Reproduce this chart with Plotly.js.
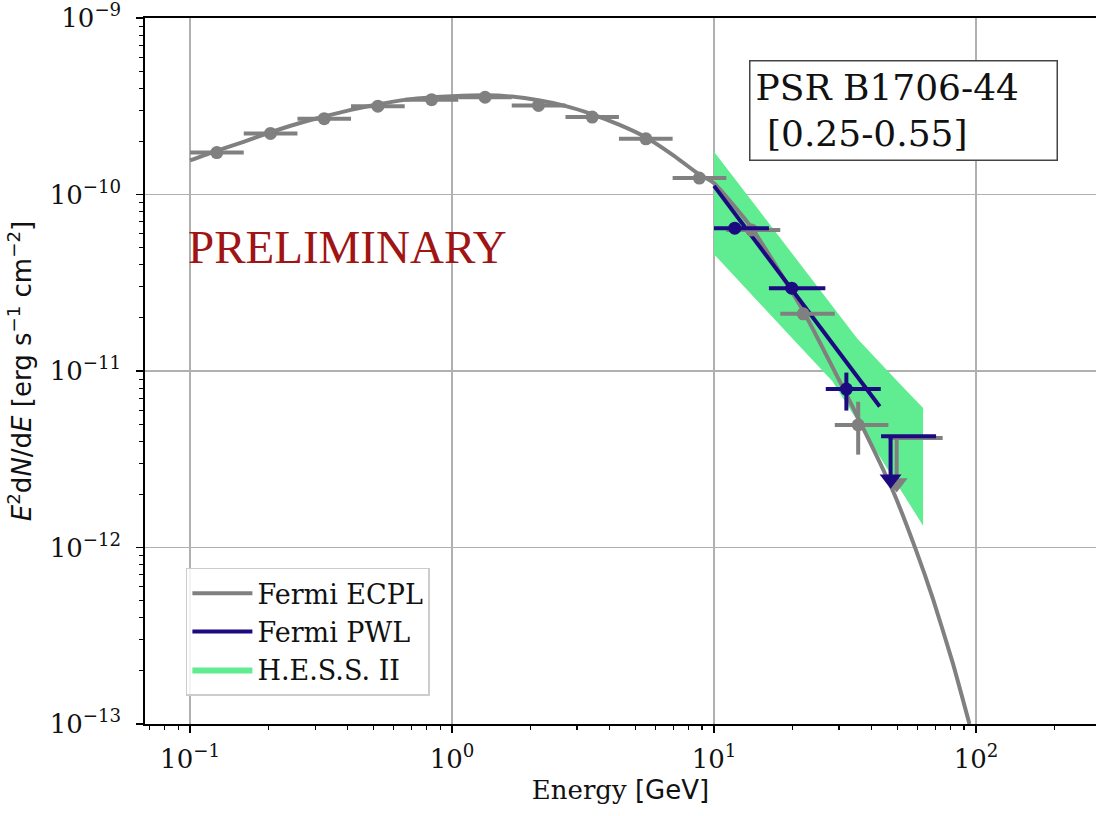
<!DOCTYPE html>
<html>
<head>
<meta charset="utf-8">
<script src="https://cdn.plot.ly/plotly-3.0.1.min.js"></script>
<style>html,body{margin:0;padding:0;background:#fff;overflow:hidden}#chart{width:1096px;height:816px}</style>
</head>
<body>
<div id="chart"></div>
<script>
// ---- Fermi ECPL model curve ----
const ecplE = [0.1, 0.126, 0.16, 0.204, 0.257, 0.325, 0.411, 0.524, 0.659, 0.839, 1.0, 1.34, 1.69, 2.14, 2.70, 3.43, 4.34, 5.46, 6.95, 8.65, 10, 13.9, 21.9, 35, 48.2, 59.1, 68.4, 81.5, 94.4];
const ecplF = [1.56e-10, 1.77e-10, 1.99e-10, 2.26e-10, 2.52e-10, 2.77e-10, 3.02e-10, 3.25e-10, 3.44e-10, 3.56e-10, 3.61e-10, 3.65e-10, 3.59e-10, 3.42e-10, 3.18e-10, 2.85e-10, 2.49e-10, 2.12e-10, 1.68e-10, 1.32e-10, 1.16e-10, 6.5e-11, 2.19e-11, 5.65e-12, 2.09e-12, 9.6e-13, 5.15e-13, 2.22e-13, 1.0e-13];

// ---- Fermi PWL line ----
const pwlE = [10, 42.9];
const pwlF = [1.12e-10, 6.3e-12];

// ---- H.E.S.S. II butterfly ----
const bandUpE = [10, 20, 35.2, 50, 62.8];
const bandUpF = [1.75e-10, 4.58e-11, 1.53e-11, 8.77e-12, 6.18e-12];
const bandLoE = [10, 20, 28.3, 40, 62.8];
const bandLoF = [4.59e-11, 1.52e-11, 8.75e-12, 3.87e-12, 1.33e-12];

// ---- Fermi ECPL flux points (gray) ----
const grayE   = [0.1265, 0.2028, 0.3251, 0.5212, 0.8356, 1.337, 2.138, 3.428, 5.495, 8.79, 13.9, 21.9, 35.5];
const grayElo = [0.1, 0.1603, 0.257, 0.4115, 0.6596, 1.056, 1.690, 2.710, 4.335, 6.95, 11.14, 17.9, 28.9];
const grayEhi = [0.1603, 0.257, 0.4115, 0.6596, 1.056, 1.690, 2.710, 4.335, 6.95, 11.14, 17.9, 28.9, 46.3];
const grayF   = [1.73e-10, 2.22e-10, 2.69e-10, 3.17e-10, 3.45e-10, 3.56e-10, 3.20e-10, 2.75e-10, 2.07e-10, 1.24e-10, 6.3e-11, 2.11e-11, 4.95e-12];
const grayFlo = [1.73e-10, 2.22e-10, 2.69e-10, 3.17e-10, 3.45e-10, 3.56e-10, 3.20e-10, 2.75e-10, 2.07e-10, 1.24e-10, 6.3e-11, 2.11e-11, 3.36e-12];
const grayFhi = [1.73e-10, 2.22e-10, 2.69e-10, 3.17e-10, 3.45e-10, 3.56e-10, 3.20e-10, 2.75e-10, 2.07e-10, 1.24e-10, 6.3e-11, 2.11e-11, 6.7e-12];
// gray upper limit
const grayUlE = [49.8], grayUlElo = [46.3], grayUlEhi = [74.6], grayUlF = [4.17e-12], grayUlArrow = [2.32e-12];

// ---- Fermi PWL flux points (navy) ----
const navyE   = [12.0, 19.8, 32.0];
const navyElo = [10.0, 16.2, 26.7];
const navyEhi = [16.2, 26.6, 43.3];
const navyF   = [6.45e-11, 2.95e-11, 7.9e-12];
const navyFlo = [6.45e-11, 2.95e-11, 5.97e-12];
const navyFhi = [6.45e-11, 2.95e-11, 9.8e-12];
// navy upper limit
const navyUlE = [47.2], navyUlElo = [43.4], navyUlEhi = [70.4], navyUlF = [4.27e-12], navyUlArrow = [2.44e-12];

// ---- ticks ----
const xTickVals = [0.1, 1, 10, 100];
const xTickText = ['10<sup>−1</sup>', '10<sup>0</sup>', '10<sup>1</sup>', '10<sup>2</sup>'];
const yTickVals = [1e-13, 1e-12, 1e-11, 1e-10, 1e-9];
const yTickText = ['10<sup>−13</sup>', '10<sup>−12</sup>', '10<sup>−11</sup>', '10<sup>−10</sup>', '10<sup>−9</sup>'];

const GRAY = '#808080', NAVY = '#1c0a80', GREEN = '#60ec90';
const SERIF = 'DejaVu Serif, serif';
const SANS = 'DejaVu Sans, sans-serif';

function minorTicks(d0, d1) {
  const out = [];
  for (let d = d0; d <= d1; d++) for (let m = 2; m <= 9; m++) out.push(m * Math.pow(10, d));
  return out;
}
const sub = (a, b) => a.map((v, i) => v - b[i]);

const traces = [
  { // band
    x: bandUpE.concat(bandLoE.slice().reverse()),
    y: bandUpF.concat(bandLoF.slice().reverse()),
    mode: 'lines', fill: 'toself', fillcolor: GREEN, line: {width: 0, color: GREEN},
    name: 'H.E.S.S. II', legendrank: 3, hoverinfo: 'skip'
  },
  { // ECPL
    x: ecplE, y: ecplF, mode: 'lines', line: {color: GRAY, width: 4, shape: 'spline', smoothing: 0.5},
    name: 'Fermi ECPL', legendrank: 1
  },
  { // PWL
    x: pwlE, y: pwlF, mode: 'lines', line: {color: NAVY, width: 4},
    name: 'Fermi PWL', legendrank: 2
  },
  { // gray points
    x: grayE, y: grayF, mode: 'markers', showlegend: false,
    marker: {color: GRAY, size: 13},
    error_x: {type: 'data', symmetric: false, array: sub(grayEhi, grayE), arrayminus: sub(grayE, grayElo), color: GRAY, thickness: 4, width: 0},
    error_y: {type: 'data', symmetric: false, array: sub(grayFhi, grayF), arrayminus: sub(grayF, grayFlo), color: GRAY, thickness: 4, width: 0}
  },
  { // gray UL
    x: grayUlE, y: grayUlF, mode: 'markers', showlegend: false, marker: {size: 1, color: 'rgba(0,0,0,0)'},
    error_x: {type: 'data', symmetric: false, array: sub(grayUlEhi, grayUlE), arrayminus: sub(grayUlE, grayUlElo), color: GRAY, thickness: 4, width: 0},
    error_y: {type: 'data', symmetric: false, array: [0], arrayminus: sub(grayUlF, grayUlArrow), color: GRAY, thickness: 4, width: 0}
  },
  {
    x: grayUlE, y: grayUlArrow, mode: 'markers', showlegend: false,
    marker: {symbol: 'triangle-down', size: 19, color: GRAY}
  },
  { // navy points
    x: navyE, y: navyF, mode: 'markers', showlegend: false,
    marker: {color: NAVY, size: 13},
    error_x: {type: 'data', symmetric: false, array: sub(navyEhi, navyE), arrayminus: sub(navyE, navyElo), color: NAVY, thickness: 4, width: 0},
    error_y: {type: 'data', symmetric: false, array: sub(navyFhi, navyF), arrayminus: sub(navyF, navyFlo), color: NAVY, thickness: 4, width: 0}
  },
  { // navy UL
    x: navyUlE, y: navyUlF, mode: 'markers', showlegend: false, marker: {size: 1, color: 'rgba(0,0,0,0)'},
    error_x: {type: 'data', symmetric: false, array: sub(navyUlEhi, navyUlE), arrayminus: sub(navyUlE, navyUlElo), color: NAVY, thickness: 4, width: 0},
    error_y: {type: 'data', symmetric: false, array: [0], arrayminus: sub(navyUlF, navyUlArrow), color: NAVY, thickness: 4, width: 0}
  },
  {
    x: navyUlE, y: navyUlArrow, mode: 'markers', showlegend: false,
    marker: {symbol: 'triangle-down', size: 19, color: NAVY}
  }
];

const axisCommon = {
  type: 'log', showline: true, linecolor: '#000', linewidth: 1.6,
  ticks: 'outside', ticklen: 7, tickwidth: 1.4, tickcolor: '#000',
  showgrid: true, gridcolor: '#b0b0b0', gridwidth: 1.5, zeroline: false,
  tickmode: 'array', tickfont: {family: SERIF, size: 26, color: '#111'},
  ticklabeloverflow: 'allow'
};

const layout = {
  width: 1096, height: 816,
  margin: {l: 145, r: 0, t: 18, b: 92},
  paper_bgcolor: '#fff', plot_bgcolor: '#fff',
  showlegend: true,
  xaxis: Object.assign({}, axisCommon, {
    range: [-1.172, 2.458], mirror: true,
    tickvals: xTickVals, ticktext: xTickText, ticklabelstandoff: 4,
    minor: {tickmode: 'array', tickvals: minorTicks(-2, 2), ticks: 'outside', ticklen: 4, tickwidth: 1.1, tickcolor: '#000', showgrid: false},
    title: {text: 'Energy <span style="font-family:DejaVu Sans">[GeV]</span>', font: {family: SERIF, size: 26, color: '#111'}, standoff: 8}
  }),
  yaxis: Object.assign({}, axisCommon, {
    range: [-13, -8.9995], mirror: false,
    tickvals: yTickVals, ticktext: yTickText, ticklabelstandoff: 10,
    minor: {tickmode: 'array', tickvals: minorTicks(-14, -10), ticks: 'outside', ticklen: 4, tickwidth: 1.1, tickcolor: '#000', showgrid: false},
    title: {text: '<i>E</i><sup>2</sup>d<i>N</i>/d<i>E</i> [erg s<sup>−1</sup> cm<sup>−2</sup>]', font: {family: SANS, size: 26, color: '#111'}, standoff: 10}
  }),
  legend: {
    x: 0.043, y: 0.04, xanchor: 'left', yanchor: 'bottom',
    bgcolor: 'rgba(255,255,255,0.85)', bordercolor: '#cccccc', borderwidth: 1.5,
    font: {family: SERIF, size: 27, color: '#111'}, itemwidth: 60
  },
  annotations: [
    {
      xref: 'paper', yref: 'paper', x: 0.635, y: 0.94, xanchor: 'left', yanchor: 'top',
      text: 'PSR B1706-44<br>\u00a0[0.25-0.55]', showarrow: false, align: 'left',
      font: {family: SERIF, size: 36, color: '#111'},
      bordercolor: '#444', borderwidth: 1.5, borderpad: 5, bgcolor: '#fff', width: 296, height: 88
    },
    {
      xref: 'paper', yref: 'paper', x: 0.043, y: 0.675, xanchor: 'left', yanchor: 'middle',
      text: 'PRELIMINARY', showarrow: false,
      font: {family: 'Liberation Serif, serif', size: 47, color: '#a01414'}
    }
  ]
};

Plotly.newPlot('chart', traces, layout, {staticPlot: true, displayModeBar: false});
</script>
</body>
</html>
